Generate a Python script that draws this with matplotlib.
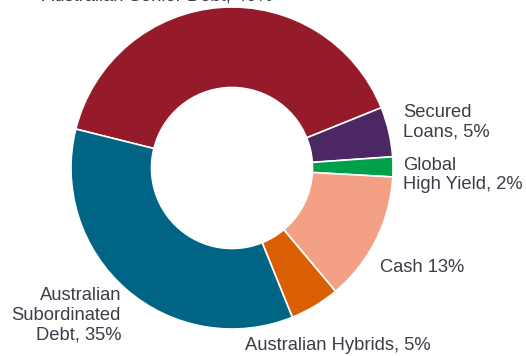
import matplotlib.pyplot as plt

labels = ["Australian Senior Debt, 40%", "Secured\nLoans, 5%", "Global\nHigh Yield, 2%",
          "Cash 13%", "Australian Hybrids, 5%", "Australian\nSubordinated\nDebt, 35%"]
values = [40, 5, 2, 13, 5, 35]
colors = ["#951b2a", "#4b2763", "#00a04b", "#f4a085", "#d95f02", "#006585"]

plt.rcParams['font.family'] = ['Liberation Sans', 'DejaVu Sans']

fig = plt.figure(figsize=(5.26, 3.56), dpi=100)
ax = fig.add_axes([0, 0, 1, 1])

# pixel geometry of the donut in the reference
cx, cy, r = 232, 168, 161

ax.pie(values, colors=colors, startangle=166, counterclock=False, radius=1,
       wedgeprops=dict(width=0.5, edgecolor='white', linewidth=1.2))

ax.set_xlim(-cx / r, (526 - cx) / r)
ax.set_ylim(-(356 - cy) / r, cy / r)
ax.set_aspect('equal')
ax.axis('off')

def px(x, y):
    return (x - cx) / r, (cy - y) / r

# label anchor points (pixels) and alignment
label_pos = [(157, -4.3, 'center'), (403, 122, 'left'), (403, 175, 'left'),
             (380, 268, 'left'), (245, 345, 'left'), (121, 315, 'right')]

tc = "#3b3d48"
for lab, (x, y, ha) in zip(labels, label_pos):
    tx, ty = px(x, y)
    ax.text(tx, ty, lab, ha=ha, va='center', fontsize=13.2, color=tc,
            linespacing=1.2, multialignment=ha)

fig.savefig("out.png", dpi=100)
